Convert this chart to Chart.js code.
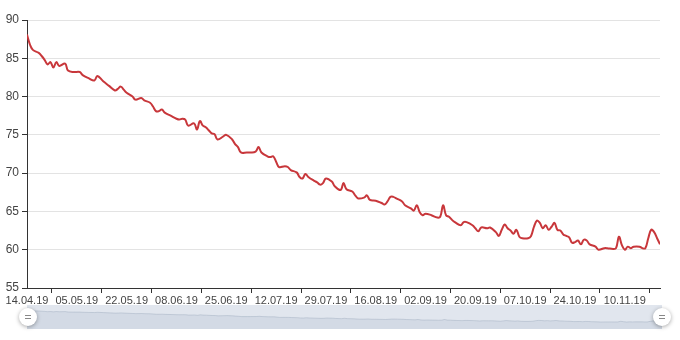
<!DOCTYPE html>
<html lang="ru">
<head>
  <meta charset="UTF-8">
  <title>Chart</title>
  <script src="https://cdn.jsdelivr.net/npm/chart.js"></script>
  <style>
    html, body { margin: 0; padding: 0; background: #fff; }
    #wrap { width: 680px; height: 340px; }
  </style>
</head>
<body>
  <div id="wrap"><canvas id="chart"></canvas></div>

  <script>
    // category index of each reading (axis has one slot per day in the source)
    const dayIndex = [0,1,2,4,5,6,7,8,9,10,11,13,14,16,18,19,21,23,24,26,28,30,31,32,33,34,36,37,39,40,
      42,43,44,45,46,47,49,51,52,53,54,55,57,58,59,60,61,62,63,64,65,67,68,70,71,72,73,75,76,78,
      79,80,82,83,84,85,86,88,89,90,92,93,94,95,96,98,99,100,101,102,104,105,107,108,109,111,112,113,115,116,
      117,119,121,122,123,124,125,126,128,129,131,132,133,134,135,136,138,140,141,142,143,144,145,146,148,149,150,152,153,154,
      155,157,158,160,161,162,163,164,165,166,167,168,169,171,172,173,174,175,176,177,178,179,180,181,182,183,184,185,186,187,
      188,189,190,191,192,194,195,197,198,200,201,202,203,204,205,206,207,209,210,211,212,213,214,215,216];

    const values = [88.1,86.8,86.1,85.7,85.3,84.8,84.2,84.5,83.8,84.5,84.0,84.3,83.4,83.2,83.2,82.8,82.4,82.1,82.7,82.0,
      81.4,80.8,81.0,81.3,80.9,80.5,80.0,79.6,79.8,79.5,79.2,78.7,78.1,78.1,78.3,77.9,77.5,77.1,77.0,77.1,
      77.0,76.2,76.5,75.7,76.8,76.2,76.0,75.6,75.2,75.1,74.4,74.8,75.0,74.4,73.8,73.4,72.7,72.7,72.7,72.8,
      73.4,72.7,72.2,72.1,72.2,71.5,70.8,70.9,70.8,70.4,70.1,69.5,69.3,69.9,69.5,69.0,68.8,68.5,68.7,69.3,
      68.9,68.3,67.8,68.7,67.9,67.6,67.1,66.7,66.8,67.1,66.5,66.4,66.1,65.9,66.3,66.9,66.9,66.7,66.3,65.8,
      65.4,65.1,65.8,64.9,64.5,64.7,64.5,64.2,64.3,65.8,64.5,64.3,63.9,63.6,63.2,63.6,63.6,63.2,62.8,62.4,
      62.9,62.8,62.9,62.3,61.8,62.6,63.3,62.8,62.5,62.1,62.6,61.7,61.5,61.5,61.8,63.0,63.8,63.5,62.8,63.2,
      62.6,63.0,63.5,62.6,62.5,62.0,61.8,61.6,60.9,61.0,61.2,60.7,61.3,61.2,60.7,60.4,60.0,60.2,60.2,60.1,
      60.2,61.7,60.6,60.0,60.4,60.2,60.4,60.4,60.2,60.2,61.5,62.6,62.3,61.5,60.7];

    const tickIndex = [0,17,34,51,68,85,102,119,136,153,170,187,204];
    const tickLabels = ['14.04.19','05.05.19','22.05.19','08.06.19','25.06.19','12.07.19','29.07.19',
      '16.08.19','02.09.19','20.09.19','07.10.19','24.10.19','10.11.19'];
    const lastIndex = 216;

    const yMin = 55, yMax = 90, yStep = 5;

    const points = dayIndex.map((d, i) => ({ x: d, y: values[i] }));

    const FONT = "'Liberation Sans', Arial, sans-serif";

    // dataZoom-like slider under the axis
    const sliderPlugin = {
      id: 'slider',
      afterDraw(chart) {
        const { ctx, chartArea } = chart;
        const x0 = chartArea.left, x1 = chartArea.right + 2;
        const top = chart.height - 35, h = 24;
        ctx.save();
        ctx.fillStyle = '#e1e6ee';
        ctx.fillRect(x0, top, x1 - x0, h);

        const lo = Math.min(...values), hi = Math.max(...values);
        const sx = d => x0 + (d - dayIndex[0]) / (dayIndex[dayIndex.length - 1] - dayIndex[0]) * (x1 - x0);
        const sy = v => top + 5 + (hi - v) / (hi - lo) * (h - 12);
        ctx.beginPath();
        ctx.moveTo(sx(dayIndex[0]), top + h);
        dayIndex.forEach((d, i) => ctx.lineTo(sx(d), sy(values[i])));
        ctx.lineTo(sx(dayIndex[dayIndex.length - 1]), top + h);
        ctx.closePath();
        ctx.fillStyle = 'rgba(150,165,190,0.18)';
        ctx.fill();
        ctx.beginPath();
        dayIndex.forEach((d, i) => i ? ctx.lineTo(sx(d), sy(values[i])) : ctx.moveTo(sx(d), sy(values[i])));
        ctx.strokeStyle = 'rgba(130,145,170,0.3)';
        ctx.lineWidth = 1;
        ctx.stroke();

        [x0 + 1, x1].forEach(cx => {
          const cy = top + h / 2;
          ctx.save();
          ctx.shadowColor = 'rgba(0,0,0,0.35)';
          ctx.shadowBlur = 4;
          ctx.shadowOffsetY = 1;
          ctx.beginPath();
          ctx.arc(cx, cy, 9, 0, Math.PI * 2);
          ctx.fillStyle = '#fff';
          ctx.fill();
          ctx.restore();
          ctx.strokeStyle = '#888';
          ctx.lineWidth = 1;
          ctx.beginPath();
          ctx.moveTo(cx - 3, cy - 1.5); ctx.lineTo(cx + 3, cy - 1.5);
          ctx.moveTo(cx - 3, cy + 1.5); ctx.lineTo(cx + 3, cy + 1.5);
          ctx.stroke();
        });
        ctx.restore();
      }
    };

    new Chart(document.getElementById('chart'), {
      type: 'line',
      data: {
        datasets: [{
          data: points,
          borderColor: '#c8373b',
          borderWidth: 2,
          tension: 0.4,
          pointRadius: 0,
          fill: false
        }]
      },
      options: {
        responsive: true,
        maintainAspectRatio: false,
        animation: false,
        layout: { padding: { top: 20, right: 20, bottom: 32, left: 0 } },
        plugins: { legend: { display: false }, tooltip: { enabled: false } },
        scales: {
          x: {
            type: 'linear',
            min: 0,
            max: lastIndex,
            afterBuildTicks: s => { s.ticks = tickIndex.map(v => ({ value: v })); },
            afterFit: s => { s.height = 20; },
            grid: { offset: true, drawOnChartArea: false, drawTicks: true, tickLength: 5, tickColor: '#333' },
            border: { display: true, color: '#333', width: 1 },
            ticks: {
              autoSkip: false, maxRotation: 0, padding: 1,
              color: '#444',
              font: { family: FONT, size: 11 },
              callback: (v, i) => tickLabels[i]
            }
          },
          y: {
            min: yMin,
            max: yMax,
            afterFit: s => { s.width = 27; },
            grid: { color: '#e3e3e3', lineWidth: 1, tickLength: 5, tickColor: '#333' },
            border: { display: true, color: '#333', width: 1 },
            ticks: {
              stepSize: yStep, padding: 3,
              color: '#444',
              font: { family: FONT, size: 12 }
            }
          }
        }
      },
      plugins: [sliderPlugin]
    });
  </script>
</body>
</html>
